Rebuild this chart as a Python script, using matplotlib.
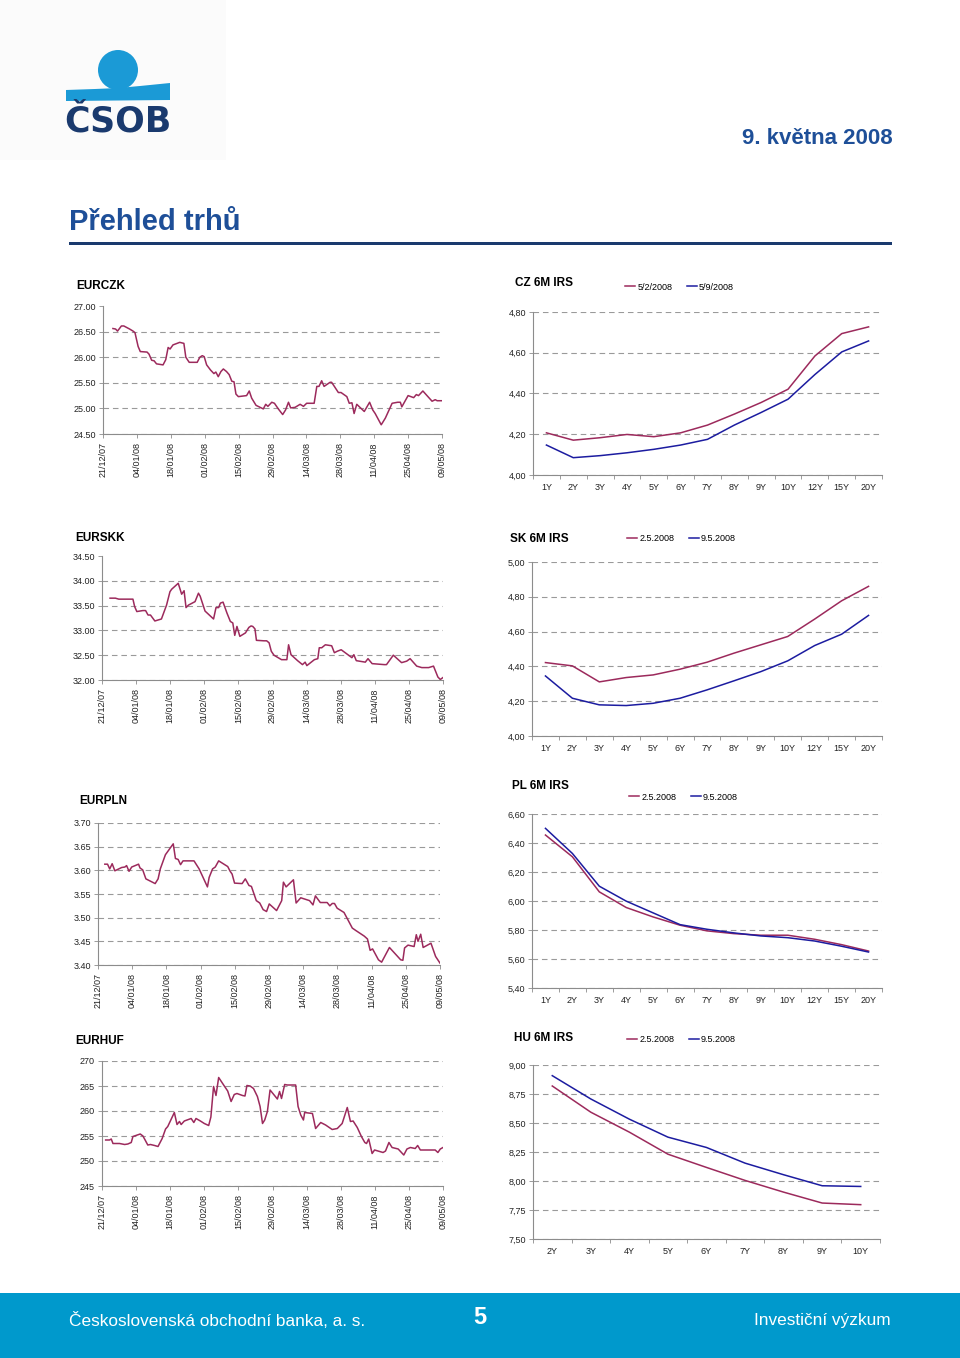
import matplotlib
matplotlib.use("Agg")
import matplotlib.pyplot as plt
from matplotlib.patches import Circle, Polygon, Rectangle
from matplotlib.ticker import FixedLocator, FuncFormatter

# ---------------- data ----------------
date_ticks = [0, 14, 28, 42, 56, 70, 84, 98, 112, 126, 140]   # days since 21/12/07
date_labels = ["21/12/07", "04/01/08", "18/01/08", "01/02/08", "15/02/08", "29/02/08",
               "14/03/08", "28/03/08", "11/04/08", "25/04/08", "09/05/08"]

czk_days = [4.1,5.2,6,7.6,8.6,11,12.4,13.2,14.5,15.4,18.2,19,20.1,21.1,22.1,24.8,25.9,26.9,27.7,28.9,
            31.7,33.4,34.2,35.6,38.9,40,41,41.8,42.8,44.4,45.8,46.6,47.6,48.7,49.7,51,52.1,53.2,54.1,54.9,
            55.9,59.3,60.4,61.4,63.2,66.2,67.2,68.1,69.7,70.8,72.4,74.2,75.4,76.6,77.5,79.3,81.4,82.8,84.1,87.2,
            88.3,89.2,90.3,91.3,93.8,94.4,95.4,97.2,98.3,100.7,101.7,102.8,103.7,104.8,107.9,110.1,111.4,112.4,114.9,116.6,
            119.4,121.7,122.8,123.4,126,128.3,129.4,130.3,132.1,133.8,135.9,137.2,138,140]
czk_vals = [26.56,26.55,26.51,26.61,26.61,26.55,26.51,26.48,26.21,26.11,26.10,26.06,25.94,25.93,25.87,25.85,25.95,26.19,26.16,26.24,
            26.29,26.27,26.00,25.90,25.90,26.00,26.03,26.01,25.85,25.75,25.68,25.71,25.62,25.72,25.77,25.72,25.66,25.53,25.52,25.28,
            25.23,25.25,25.34,25.20,25.06,24.99,25.08,25.04,25.12,25.10,24.99,24.88,24.97,25.12,25.01,25.02,25.08,25.04,25.10,25.10,
            25.43,25.43,25.54,25.43,25.51,25.51,25.44,25.31,25.31,25.23,25.10,25.11,24.90,25.08,24.94,25.12,24.97,24.90,24.68,24.81,
            25.10,25.12,25.12,25.03,25.25,25.21,25.27,25.25,25.34,25.25,25.14,25.17,25.15,25.15]

skk_days = [3.3,5.5,6.9,12.7,13.4,14.3,16.8,17.9,18.9,19.9,21.7,24.4,26.5,27.9,28.6,31.3,32.7,33.7,34.5,35.5,
            38.2,39.6,40.3,42.3,45.8,46.8,47.9,48.6,49.7,51.3,52.7,53.7,54.5,55.4,56.6,58.9,60.3,61.2,61.9,62.8,
            63.4,66.5,67.6,68.6,69.5,70.6,73.7,75.9,76.6,77.6,80.3,82.3,83.4,84.1,87.2,88.6,89.2,90.2,91.7,94.3,
            95.4,96.6,98.2,102.6,103.4,104.4,108.1,109.2,110.9,115.9,116.8,119.6,123,125.1,126.5,129.2,131.3,134.1,136.1,137.9,
            138.9,140]
skk_vals = [33.65,33.65,33.63,33.63,33.48,33.38,33.40,33.40,33.31,33.31,33.19,33.23,33.51,33.78,33.83,33.95,33.73,33.80,33.46,33.51,
            33.58,33.75,33.69,33.39,33.23,33.46,33.46,33.55,33.57,33.35,33.18,33.15,32.90,33.08,32.88,32.95,33.06,33.09,33.08,33.03,
            32.80,32.79,32.79,32.75,32.58,32.50,32.41,32.41,32.71,32.51,32.39,32.31,32.36,32.29,32.41,32.43,32.65,32.65,32.71,32.69,
            32.55,32.58,32.61,32.45,32.51,32.39,32.36,32.43,32.33,32.31,32.31,32.50,32.35,32.38,32.43,32.28,32.25,32.25,32.28,32.06,
            32.01,32.05]

pln_days = [2.8,3.9,4.8,5.8,6.9,9.7,11,11.7,12.7,13.8,16.6,17.2,18.3,19.6,23.4,24.6,25.5,27.6,30.8,31.7,
            32.8,33.8,34.8,39.3,41.4,44.8,45.5,46.9,48,49.4,53.1,54.1,54.9,55.9,59,60.3,61.8,62.8,64.8,66.2,
            67.6,69,70.1,73.1,75.2,75.9,77,80,81.1,83,86.6,88,89,91,93.8,94.9,95.9,96.8,97.9,100.7,
            104.1,105.5,109,110.3,111.4,112.4,114.8,116.1,119.3,123.9,124.8,125.5,126.9,129.4,130.3,131,132.1,133.1,136.3,138.2,
            140]
pln_vals = [3.613,3.613,3.603,3.614,3.599,3.606,3.607,3.610,3.598,3.607,3.613,3.605,3.601,3.582,3.572,3.582,3.603,3.633,3.656,3.625,
            3.623,3.612,3.620,3.620,3.603,3.565,3.585,3.603,3.607,3.620,3.608,3.598,3.592,3.573,3.572,3.582,3.568,3.566,3.536,3.531,
            3.517,3.513,3.529,3.515,3.536,3.575,3.565,3.580,3.531,3.542,3.536,3.527,3.546,3.532,3.532,3.525,3.530,3.530,3.520,3.511,
            3.478,3.473,3.461,3.455,3.431,3.434,3.411,3.406,3.437,3.411,3.410,3.436,3.442,3.439,3.464,3.450,3.465,3.437,3.446,3.418,
            3.404]

huf_days = [1.5,3.1,3.8,4.5,7.2,9.3,10.6,12,12.7,14.5,15.7,16.8,17.7,18.8,19.9,21.6,23,24.7,26.1,27,
            29.7,30.8,31.8,32.5,33.8,36.6,37.7,38.6,40.4,42,43.8,44.7,45.8,46.8,47.9,49.8,51.6,53,54.3,55.4,
            57.7,58.7,59.5,60.8,62.2,63.8,64.9,65.9,66.8,67.9,69,72,72.9,73.7,75,76.1,79.5,80.5,81.6,82.7,
            83.2,86.4,87.7,89.8,91.8,94.5,96.6,98.6,100.7,102,103.1,104.8,106.5,107.9,108.6,109.5,110.9,111.9,115.4,116.4,
            117.8,119.1,121.6,123.9,125.2,126.6,128.6,129.6,130.7,136.8,137.9,138.9,140]
huf_vals = [254.2,254.2,254.4,253.5,253.5,253.3,253.4,253.7,254.9,255.2,255.4,255.0,254.2,253.2,253.3,253.1,252.9,254.5,256.4,256.9,
            259.7,257.3,257.9,257.3,258.0,258.5,257.7,258.5,258.0,257.5,257.1,258.8,264.9,263.1,266.7,265.3,264.0,261.9,263.3,263.5,
            263.1,263.0,265.1,265.0,264.5,262.9,260.9,257.5,258.2,259.9,264.2,262.4,263.9,262.5,265.3,265.2,265.2,260.9,259.2,258.2,
            259.7,259.5,256.5,257.7,257.2,256.3,256.5,257.5,260.7,257.9,258.0,256.7,254.9,253.7,253.5,254.4,251.5,252.2,251.7,252.0,
            253.7,252.7,252.4,251.2,252.4,252.7,252.5,253.1,252.2,252.2,251.7,252.4,252.7]

tenors13 = ["1Y", "2Y", "3Y", "4Y", "5Y", "6Y", "7Y", "8Y", "9Y", "10Y", "12Y", "15Y", "20Y"]
tenors_hu = ["2Y", "3Y", "4Y", "5Y", "6Y", "7Y", "8Y", "9Y", "10Y"]

cz_old = [4.207,4.171,4.183,4.199,4.188,4.207,4.245,4.299,4.356,4.421,4.584,4.694,4.727]
cz_new = [4.147,4.085,4.095,4.109,4.126,4.147,4.175,4.245,4.307,4.372,4.493,4.604,4.658]
sk_old = [4.422,4.403,4.311,4.336,4.351,4.384,4.424,4.476,4.524,4.572,4.672,4.777,4.860]
sk_new = [4.345,4.217,4.179,4.175,4.188,4.217,4.265,4.317,4.370,4.432,4.520,4.585,4.693]
pl_old = [6.455,6.305,6.063,5.955,5.890,5.833,5.794,5.775,5.764,5.764,5.736,5.699,5.655]
pl_new = [6.501,6.328,6.102,5.999,5.918,5.837,5.805,5.780,5.759,5.747,5.724,5.688,5.648]
hu_old = [8.819,8.593,8.421,8.231,8.117,8.005,7.904,7.810,7.796]
hu_new = [8.908,8.707,8.533,8.378,8.289,8.154,8.054,7.959,7.953]

# ---------------- style ----------------
W, H = 960, 1358
RED = "#9c2a5c"
BLUE = "#1c1ca0"
GRID = "#9a9a9a"
SPINE = "#8c8c8c"
TXT = "#222222"
NAVY = "#1a3a6e"
HEADBLUE = "#1e4f98"
FOOT = "#0099cc"
LOGOBLUE = "#1b9ad6"
SANS = ["Liberation Sans", "DejaVu Sans"]

plt.rcParams["font.family"] = SANS

fig = plt.figure(figsize=(W / 100, H / 100), dpi=100)
fig.patch.set_facecolor("white")

# overlay in pixel coordinates for page furniture
ov = fig.add_axes([0, 0, 1, 1], zorder=0)
ov.set_xlim(0, W)
ov.set_ylim(H, 0)
ov.axis("off")


def box(l, t, r, b):
    return [l / W, 1 - b / H, (r - l) / W, (b - t) / H]


def base_style(ax, ylim, yticks, fmt, top_grid=True):
    ax.set_ylim(*ylim)
    ax.yaxis.set_major_locator(FixedLocator(yticks))
    ax.yaxis.set_major_formatter(FuncFormatter(fmt))
    for s in ("top", "right"):
        ax.spines[s].set_visible(False)
    for s in ("left", "bottom"):
        ax.spines[s].set_color(SPINE)
        ax.spines[s].set_linewidth(0.8)
    ax.tick_params(axis="y", which="major", length=3, width=0.6, color=SPINE,
                   labelsize=6.5, labelcolor=TXT, pad=2)
    ax.yaxis.grid(True, color=GRID, linestyle=(0, (5, 3.5)), linewidth=0.8)
    ax.set_axisbelow(True)
    ax.set_facecolor("none")
    if not top_grid:
        lines = ax.get_ygridlines()
        lines[-1].set_visible(False)


def fx_chart(l, t, r, b, days, vals, ylim, yticks, fmt, title, tpos, top_grid=True):
    ax = fig.add_axes(box(l, t, r, b), zorder=2)
    ax.plot(days, vals, color=RED, linewidth=1.1, solid_joinstyle="round")
    ax.set_xlim(0, 140)
    ax.set_xticks(date_ticks)
    ax.set_xticklabels(date_labels, rotation=90)
    ax.tick_params(axis="x", length=3, width=0.6, color=SPINE, labelsize=6.5,
                   labelcolor=TXT, pad=3)
    base_style(ax, ylim, yticks, fmt, top_grid)
    ov.text(tpos[0], tpos[1], title, fontsize=8.5, fontweight="bold",
            color="black", ha="left", va="center")
    return ax


def irs_chart(l, t, r, b, cats, old, new, ylim, yticks, title, tpos,
              labels, legpos):
    ax = fig.add_axes(box(l, t, r, b), zorder=2)
    x = list(range(len(cats)))
    ax.plot(x, old, color=RED, linewidth=1.1, label=labels[0])
    ax.plot(x, new, color=BLUE, linewidth=1.1, label=labels[1])
    ax.set_xlim(-0.5, len(cats) - 0.5)
    ax.set_xticks(x)
    ax.set_xticklabels(cats)
    ax.set_xticks([i - 0.5 for i in range(len(cats) + 1)], minor=True)
    ax.tick_params(axis="x", which="major", length=0, labelsize=6.5,
                   labelcolor=TXT, pad=6)
    ax.tick_params(axis="x", which="minor", length=3, width=0.6, color=SPINE)
    base_style(ax, ylim, yticks, lambda v, p: f"{v:.2f}".replace(".", ","))
    ov.text(tpos[0], tpos[1], title, fontsize=8.5, fontweight="bold",
            color="black", ha="left", va="center")
    ax.legend(loc="center left", bbox_to_anchor=(legpos[0] / W, 1 - legpos[1] / H),
              bbox_transform=fig.transFigure, ncol=2, frameon=False,
              fontsize=6.5, handlelength=1.1, handletextpad=0.25,
              columnspacing=1.6, borderpad=0, borderaxespad=0)
    return ax


f2 = lambda v, p: f"{v:.2f}"
f0 = lambda v, p: f"{v:.0f}"

# ---------------- FX charts ----------------
fx_chart(103, 306, 442, 434, czk_days, czk_vals, (24.5, 27.0),
         [24.5, 25.0, 25.5, 26.0, 26.5, 27.0], f2, "EURCZK", (76, 286), top_grid=False)
fx_chart(102, 556, 443, 680, skk_days, skk_vals, (32.0, 34.5),
         [32.0, 32.5, 33.0, 33.5, 34.0, 34.5], f2, "EURSKK", (75, 538), top_grid=False)
fx_chart(98, 823, 440, 965, pln_days, pln_vals, (3.40, 3.70),
         [3.40, 3.45, 3.50, 3.55, 3.60, 3.65, 3.70], f2, "EURPLN", (79, 801))
fx_chart(102, 1061, 443, 1186, huf_days, huf_vals, (245, 270),
         [245, 250, 255, 260, 265, 270], f0, "EURHUF", (75, 1041))

# ---------------- IRS charts ----------------
irs_chart(533, 312, 882, 475, tenors13, cz_old, cz_new, (4.0, 4.8),
          [4.0, 4.2, 4.4, 4.6, 4.8], "CZ 6M IRS", (515, 283),
          ("5/2/2008", "5/9/2008"), (625, 287))
irs_chart(532, 562, 882, 736, tenors13, sk_old, sk_new, (4.0, 5.0),
          [4.0, 4.2, 4.4, 4.6, 4.8, 5.0], "SK 6M IRS", (510, 539),
          ("2.5.2008", "9.5.2008"), (627, 539))
irs_chart(532, 814, 882, 988, tenors13, pl_old, pl_new, (5.4, 6.6),
          [5.4, 5.6, 5.8, 6.0, 6.2, 6.4, 6.6], "PL 6M IRS", (512, 786),
          ("2.5.2008", "9.5.2008"), (629, 797))
irs_chart(533, 1065, 880, 1239, tenors_hu, hu_old, hu_new, (7.5, 9.0),
          [7.5, 7.75, 8.0, 8.25, 8.5, 8.75, 9.0], "HU 6M IRS", (514, 1038),
          ("2.5.2008", "9.5.2008"), (627, 1040))

# ---------------- page furniture ----------------
# faint logo backdrop
ov.add_patch(Rectangle((0, 0), 226, 160, facecolor="#fbfbfb", edgecolor="none"))
# logo
ov.add_patch(Circle((118, 70), 20, facecolor=LOGOBLUE, edgecolor="none"))
ov.add_patch(Polygon([(66, 90), (95, 89), (118, 88), (140, 86), (170, 83),
                      (170, 100), (66, 101)], closed=True,
                     facecolor=LOGOBLUE, edgecolor="none"))
ov.text(118, 132, "ČSOB", fontsize=25, fontweight="heavy", color=NAVY,
        ha="center", va="baseline", family=["DejaVu Sans"])

ov.text(893, 138, "9. května 2008", fontsize=16, fontweight="bold", color=HEADBLUE,
        ha="right", va="center")
ov.text(69, 222, "Přehled trhů", fontsize=21, fontweight="bold", color=HEADBLUE,
        ha="left", va="center")
ov.add_patch(Rectangle((69, 241.5), 823, 3, facecolor=NAVY, edgecolor="none"))

# footer
ov.add_patch(Rectangle((0, 1293), W, H - 1293, facecolor=FOOT, edgecolor="none"))
ov.text(69, 1321, "Československá obchodní banka, a. s.", fontsize=12.4, color="white",
        ha="left", va="center")
ov.text(480, 1317, "5", fontsize=17, fontweight="bold", color="white",
        ha="center", va="center")
ov.text(891, 1321, "Investiční výzkum", fontsize=12.4, color="white",
        ha="right", va="center")

fig.savefig("out.png", dpi=100, facecolor="white")
